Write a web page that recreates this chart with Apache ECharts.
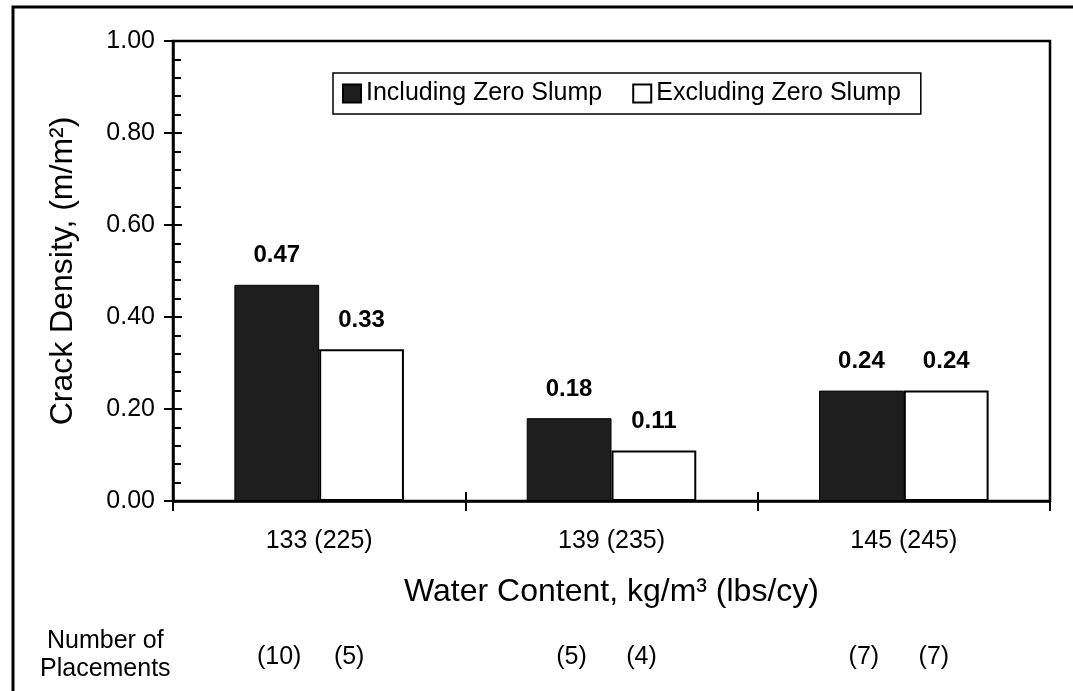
<!DOCTYPE html>
<html>
<head>
<meta charset="utf-8">
<script src="https://cdn.jsdelivr.net/npm/echarts@6/dist/echarts.min.js"></script>
<style>
html,body{margin:0;padding:0;background:#fff;}
#chart{width:1073px;height:691px;}
</style>
</head>
<body>
<div id="chart"></div>
<script>
// ---- data ----
var categories = ['133 (225)', '139 (235)', '145 (245)'];
var seriesNames = ['Including Zero Slump', 'Excluding Zero Slump'];
var including = [0.47, 0.18, 0.24];
var excluding = [0.33, 0.11, 0.24];
var placementsIncluding = [10, 5, 7];
var placementsExcluding = [5, 4, 7];
var yTitle = 'Crack Density, (m/m\u00B2)';
var xTitle = 'Water Content, kg/m\u00B3 (lbs/cy)';
var placementsTitle = 'Number of\nPlacements';

var FONT = '"Liberation Sans", Arial, Helvetica, sans-serif';
var chart = echarts.init(document.getElementById('chart'), null, {renderer: 'canvas'});

var placementLabels = categories.map(function (c, i) {
  return '{a|(' + placementsIncluding[i] + ')}{b|(' + placementsExcluding[i] + ')}{c|}';
});

var option = {
  backgroundColor: '#ffffff',
  animation: false,
  textStyle: {fontFamily: FONT, color: '#000'},
  grid: {
    left: 173, right: 23, top: 41, bottom: 190,
    show: true, borderColor: '#000', borderWidth: 2.5, backgroundColor: 'transparent'
  },
  legend: {
    left: 333, top: 73,
    data: seriesNames,
    icon: 'rect',
    itemWidth: 18, itemHeight: 18,
    itemGap: 30,
    padding: [8, 20, 8, 9],
    borderColor: '#000', borderWidth: 1.5,
    textStyle: {fontFamily: FONT, fontSize: 25, color: '#000'}
  },
  xAxis: [{
    type: 'category',
    data: categories,
    position: 'bottom',
    axisLine: {show: true, lineStyle: {color: '#000', width: 2.5}},
    axisTick: {show: true, inside: false, length: 10, lineStyle: {color: '#000', width: 2}},
    axisLabel: {fontFamily: FONT, fontSize: 25, color: '#000', margin: 28},
    splitLine: {show: false},
    name: xTitle,
    nameLocation: 'middle',
    nameGap: 75,
    nameTextStyle: {fontFamily: FONT, fontSize: 32, color: '#000'}
  }, {
    type: 'category',
    data: placementLabels,
    position: 'bottom',
    axisLine: {show: false},
    axisTick: {show: true, inside: true, length: 9, lineStyle: {color: '#000', width: 2}},
    axisLabel: {
      fontFamily: FONT, fontSize: 25, color: '#000', margin: 144,
      rich: {
        a: {width: 80, align: 'center', fontFamily: FONT, fontSize: 25, color: '#000'},
        b: {width: 60, align: 'center', fontFamily: FONT, fontSize: 25, color: '#000'},
        c: {width: 20}
      }
    },
    splitLine: {show: false}
  }],
  yAxis: [{
    type: 'value',
    min: 0, max: 1, interval: 0.2,
    position: 'left',
    axisLine: {show: true, lineStyle: {color: '#000', width: 2.5}},
    axisTick: {show: true, inside: false, length: 9, lineStyle: {color: '#000', width: 2}},
    axisLabel: {
      fontFamily: FONT, fontSize: 25, color: '#000', margin: 18,
      formatter: function (v) { return v.toFixed(2); }
    },
    splitLine: {show: false},
    name: yTitle,
    nameLocation: 'middle',
    nameGap: 94,
    nameTextStyle: {fontFamily: FONT, fontSize: 32, color: '#000'}
  }, {
    type: 'value',
    min: 0, max: 1, interval: 0.2,
    position: 'left',
    offset: 0,
    axisLine: {show: false},
    axisTick: {show: true, inside: true, length: 9, lineStyle: {color: '#000', width: 2}},
    minorTick: {show: true, splitNumber: 5, length: 8, lineStyle: {color: '#000', width: 2}},
    axisLabel: {show: false},
    splitLine: {show: false}
  }],
  series: [{
    name: seriesNames[0],
    type: 'bar',
    data: including,
    barGap: '0%',
    barCategoryGap: '42%',
    itemStyle: {color: '#1e1e1e', borderColor: '#000', borderWidth: 1},
    label: {
      show: true, position: 'top', distance: 17,
      fontFamily: FONT, fontSize: 24, fontWeight: 'bold', color: '#000',
      formatter: function (p) { return p.value.toFixed(2); }
    }
  }, {
    name: seriesNames[1],
    type: 'bar',
    data: excluding,
    barGap: '0%',
    barCategoryGap: '42%',
    itemStyle: {color: '#ffffff', borderColor: '#000', borderWidth: 2},
    label: {
      show: true, position: 'top', distance: 17,
      fontFamily: FONT, fontSize: 24, fontWeight: 'bold', color: '#000',
      formatter: function (p) { return p.value.toFixed(2); }
    }
  }],
  graphic: [{
    type: 'rect',
    shape: {x: 13, y: 7, width: 1200, height: 800},
    style: {fill: 'none', stroke: '#000', lineWidth: 3},
    silent: true
  }, {
    type: 'text',
    left: 40, top: 627,
    style: {
      text: placementsTitle,
      font: '25px ' + FONT,
      fill: '#000',
      textAlign: 'center',
      lineHeight: 28
    }
  }]
};
chart.setOption(option);
</script>
</body>
</html>
